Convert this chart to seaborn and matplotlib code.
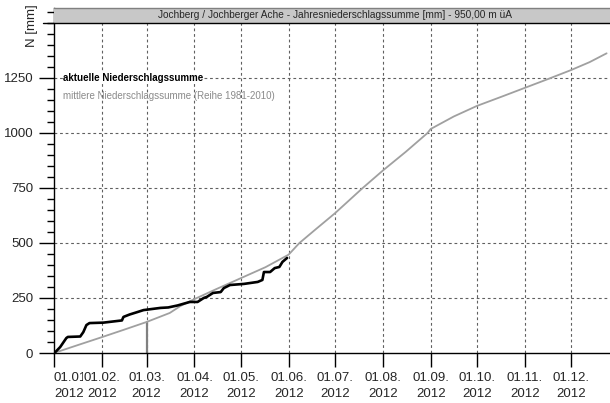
import matplotlib
matplotlib.use("Agg")
import matplotlib.pyplot as plt
import seaborn as sns
import pandas as pd
from matplotlib.patches import Rectangle
from matplotlib.ticker import MultipleLocator

# ---- data (day of year 2012, cumulative precipitation in mm) ----
mean_days = [0, 15, 31, 45, 60, 75, 82, 91, 105, 121, 137, 152, 159, 170, 182,
             200, 213, 228, 242, 244, 259, 274, 290, 305, 320, 335, 347, 358]
mean_vals = [0, 35, 72, 105, 141, 182, 214, 245, 290, 340, 390, 447, 500, 565, 635,
             750, 829, 915, 1000, 1018, 1075, 1123, 1165, 1205, 1245, 1286, 1322, 1362]

act_days = [0, 1, 4, 8, 9, 17, 19, 21, 23, 32, 44, 45, 49, 54, 58, 69, 74, 80, 88,
            93, 97, 99, 103, 108, 110, 114, 123, 132, 135, 136, 140, 143, 146, 148, 151]
act_vals = [0, 5, 27, 68, 73, 75, 95, 127, 136, 138, 148, 164, 175, 186, 195, 205, 207,
            216, 232, 232, 250, 255, 273, 277, 295, 309, 314, 323, 332, 368, 368, 386,
            391, 414, 432]

month_days = [0, 31, 60, 91, 121, 152, 182, 213, 244, 274, 305, 335]
month_labels = ["01.01.\n2012", "01.02.\n2012", "01.03.\n2012", "01.04.\n2012",
                "01.05.\n2012", "01.06.\n2012", "01.07.\n2012", "01.08.\n2012",
                "01.09.\n2012", "01.10.\n2012", "01.11.\n2012", "01.12.\n2012"]
marker_day = 60
marker_val = 141

title = "Jochberg / Jochberger Ache - Jahresniederschlagssumme [mm] - 950,00 m üA"
legend_act = "aktuelle Niederschlagssumme"
legend_mean = "mittlere Niederschlagssumme (Reihe 1981-2010)"

sns.set_style("white")
plt.rcParams["font.family"] = ["Liberation Sans", "DejaVu Sans"]

fig = plt.figure(figsize=(6.10, 4.03), dpi=100)
ax = fig.add_axes([54 / 610, 1 - 353 / 403, 556 / 610, 345 / 403])

XMAX = 360.2
YMAX = 1568

df_mean = pd.DataFrame({"day": mean_days, "val": mean_vals})
df_act = pd.DataFrame({"day": act_days, "val": act_vals})

# grid lines
for d in month_days[1:]:
    ax.axvline(d, color="#606060", lw=0.8, ls=(0, (2.5, 2.5)), zorder=1)
for v in [250, 500, 750, 1000, 1250]:
    ax.axhline(v, color="#606060", lw=0.8, ls=(0, (2.5, 2.5)), zorder=1)

# marker line at 01.03.
ax.plot([marker_day, marker_day], [0, marker_val], color="#808080", lw=1.6, zorder=2)

sns.lineplot(data=df_mean, x="day", y="val", ax=ax, color="#a0a0a0", lw=1.3, zorder=3)
sns.lineplot(data=df_act, x="day", y="val", ax=ax, color="black", lw=1.9, zorder=4)

# title bar
ax.add_patch(Rectangle((0, 1500), XMAX, YMAX - 1500, facecolor="#c8c8c8",
                       edgecolor="none", zorder=5, clip_on=False))
ax.plot([0, XMAX], [YMAX - 2, YMAX - 2], color="#808080", lw=1, zorder=6, clip_on=False)
ax.plot([0, XMAX], [1500, 1500], color="black", lw=1, zorder=6, clip_on=False)
ax.text((XMAX) / 2 + 2, 1534, title, ha="center", va="center", fontsize=7.3, zorder=7)

ax.set_xlim(0, XMAX)
ax.set_ylim(0, YMAX)

for s in ["top", "right"]:
    ax.spines[s].set_visible(False)
for s in ["left", "bottom"]:
    ax.spines[s].set_color("black")
    ax.spines[s].set_linewidth(1)

ax.set_yticks([0, 250, 500, 750, 1000, 1250])
ax.yaxis.set_minor_locator(MultipleLocator(50))
ax.tick_params(axis="y", which="major", length=11, width=1, color="black",
               labelsize=9.5, pad=4, left=True)
ax.tick_params(axis="y", which="minor", length=5, width=1, color="black", left=True)
# major tick at 1500 (no label)
ax.plot([-11 * XMAX / 556, 0], [1500, 1500], color="black", lw=1, clip_on=False, zorder=6)

ax.set_xticks(month_days)
ax.set_xticklabels(month_labels, linespacing=1.45)
ax.tick_params(axis="x", which="major", length=10, width=1, color="black",
               labelsize=9.5, pad=4, bottom=True)
labels = ax.get_xticklabels()
labels[0].set_ha("left")
labels[0].set_multialignment("left")
for lab in labels[1:]:
    lab.set_bbox(dict(facecolor="white", edgecolor="none", pad=0))

ax.set_xlabel("")
ax.set_ylabel("")
fig.text(32 / 610, 1 - 26 / 403, "N [mm]", rotation=90, ha="center", va="center", fontsize=9.5)

# legend texts
ax.text(6, 1250, legend_act, fontsize=7, color="black", fontweight="bold", va="center",
        zorder=6, bbox=dict(facecolor="white", edgecolor="none", pad=0.5))
ax.text(6, 1170, legend_mean, fontsize=7, color="#8a8a8a", va="center", zorder=6)

fig.savefig("out.png", dpi=100)
